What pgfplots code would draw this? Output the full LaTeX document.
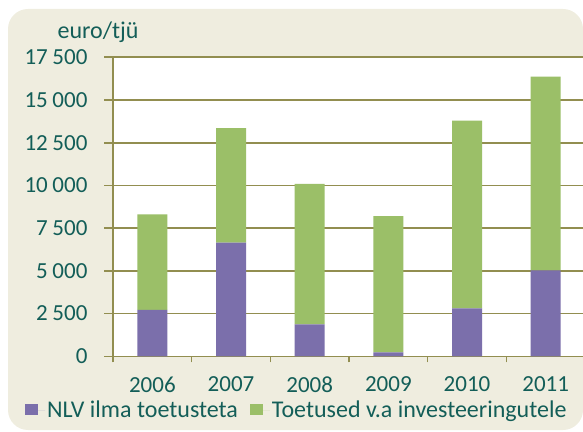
\documentclass[border=0pt]{standalone}
\usepackage{pgfplots}
\pgfplotsset{compat=1.18}
\usepackage{fontspec}
\setmainfont{Carlito}
\definecolor{bg}{HTML}{EFEDDF}
\definecolor{purp}{HTML}{7B6FAB}
\definecolor{grn}{HTML}{9BBF68}
\definecolor{gridc}{HTML}{928E50}
\definecolor{txt}{HTML}{135E58}
\newcommand{\cf}{\fontsize{23}{28}\selectfont}
\newcommand{\lf}{\fontsize{24}{28}\selectfont}
\begin{document}
\begin{tikzpicture}[x=1pt,y=1pt]
\useasboundingbox (0,0) rectangle (583,431);
\clip (0,0) rectangle (583,431);
\fill[bg, rounded corners=20pt] (8,1) rectangle (583,422);
\begin{axis}[
  at={(113pt,74.7pt)}, anchor=south west,
  scale only axis, width=472pt, height=299pt,
  xmin=-0.5, xmax=5.5, ymin=0, ymax=17500,
  ybar stacked, bar width=30pt,
  axis background/.style={fill=white},
  axis x line*=bottom, axis y line*=left,
  axis line style={gridc, line width=1.6pt, -},
  scaled y ticks=false,
  ytick={0,2500,5000,7500,10000,12500,15000,17500},
  /pgf/number format/assume math mode=true,
  /pgf/number format/1000 sep={\hspace{0.2em}},
  xtick={0,1,2,3,4,5},
  xticklabels={2006,2007,2008,2009,2010,2011},
  minor xtick={-0.5,0.5,1.5,2.5,3.5,4.5,5.5},
  tick align=outside,
  major tick length=9pt, minor tick length=6pt,
  tick style={gridc, line width=1.6pt},
  major x tick style={draw=none},
  ymajorgrids, xmajorgrids=false,
  grid style={gridc, line width=1.6pt},
  ticklabel style={font=\cf, text=txt},
  yticklabel style={font=\cf, xshift=-13pt},
  xticklabel style={yshift=-8pt},
  legend style={at={(-0.193,-0.18)}, anchor=west, draw=none, fill=none,
    legend columns=2, font=\lf, text=txt,
    /tikz/every even column/.append style={column sep=10pt}},
  legend cell align=left,
  legend image code/.code={\fill[#1] (0pt,-5pt) rectangle (13pt,6pt); \path (13pt,0) -- (20pt,0);},
]
\addplot[fill=purp, draw=none] coordinates {(0,2710) (1,6650) (2,1870) (3,230) (4,2800) (5,5030)};
\addplot[fill=grn, draw=none] coordinates {(0,5600) (1,6700) (2,8220) (3,7970) (4,10990) (5,11340)};
\legend{NLV ilma toetusteta, Toetused v.a investeeringutele}
\end{axis}
\node[anchor=base, text=txt, font=\lf] at (98,392.7) {euro/tjü};
\end{tikzpicture}
\end{document}
